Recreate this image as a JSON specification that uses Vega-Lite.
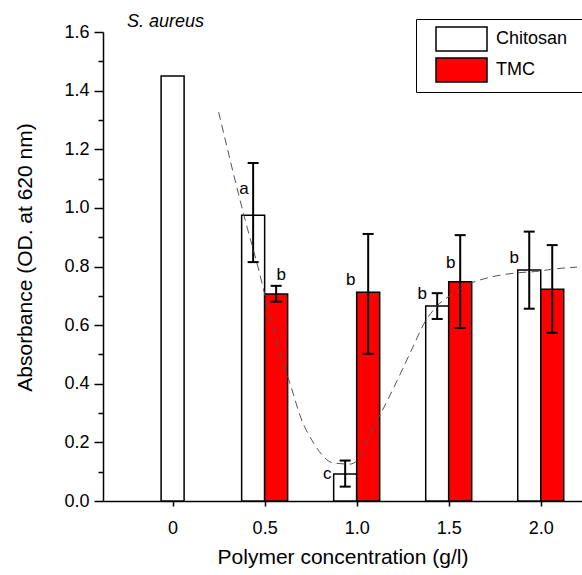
{
  "$schema": "https://vega.github.io/schema/vega-lite/v6.json",
  "width": 479,
  "height": 469,
  "autosize": "none",
  "padding": {"left": 103, "top": 32, "right": 0, "bottom": 74},
  "config": {
    "font": "Liberation Sans",
    "view": {"stroke": null},
    "axis": {"grid": false, "domainColor": "black", "tickColor": "black", "labelColor": "black", "titleColor": "black", "titleFontWeight": "normal", "labelFont": "Liberation Sans", "titleFont": "Liberation Sans"}
  },
  "title": {"text": "S. aureus", "font": "Liberation Sans", "fontStyle": "italic", "fontWeight": "normal", "fontSize": 18, "color": "black", "anchor": "start", "frame": "group", "dx": 24, "dy": 13, "offset": 1},
  "datasets": {
    "bars": [
      {"conc": 0, "series": "Chitosan", "mean": 1.45, "lo": null, "hi": null},
      {"conc": 0.5, "series": "Chitosan", "mean": 0.975, "lo": 0.815, "hi": 1.153},
      {"conc": 0.5, "series": "TMC", "mean": 0.706, "lo": 0.68, "hi": 0.734},
      {"conc": 1.0, "series": "Chitosan", "mean": 0.092, "lo": 0.049, "hi": 0.138},
      {"conc": 1.0, "series": "TMC", "mean": 0.712, "lo": 0.502, "hi": 0.911},
      {"conc": 1.5, "series": "Chitosan", "mean": 0.665, "lo": 0.621, "hi": 0.709},
      {"conc": 1.5, "series": "TMC", "mean": 0.748, "lo": 0.59, "hi": 0.907},
      {"conc": 2.0, "series": "Chitosan", "mean": 0.788, "lo": 0.656, "hi": 0.919},
      {"conc": 2.0, "series": "TMC", "mean": 0.722, "lo": 0.574, "hi": 0.873}
    ],
    "letters": [
      {"lx": 0.388, "ly": 1.047, "letter": "a"},
      {"lx": 0.59, "ly": 0.754, "letter": "b"},
      {"lx": 0.84, "ly": 0.075, "letter": "c"},
      {"lx": 0.968, "ly": 0.737, "letter": "b"},
      {"lx": 1.356, "ly": 0.689, "letter": "b"},
      {"lx": 1.511, "ly": 0.795, "letter": "b"},
      {"lx": 1.856, "ly": 0.812, "letter": "b"}
    ],
    "curve": [
      {"cx": 0.25, "cy": 1.327},
      {"cx": 0.394, "cy": 0.959},
      {"cx": 0.468, "cy": 0.788},
      {"cx": 0.521, "cy": 0.652},
      {"cx": 0.59, "cy": 0.491},
      {"cx": 0.644, "cy": 0.389},
      {"cx": 0.697, "cy": 0.283},
      {"cx": 0.766, "cy": 0.198},
      {"cx": 0.872, "cy": 0.13},
      {"cx": 0.963, "cy": 0.126},
      {"cx": 1.016, "cy": 0.147},
      {"cx": 1.085, "cy": 0.242},
      {"cx": 1.16, "cy": 0.334},
      {"cx": 1.229, "cy": 0.423},
      {"cx": 1.298, "cy": 0.515},
      {"cx": 1.372, "cy": 0.612},
      {"cx": 1.436, "cy": 0.665},
      {"cx": 1.52, "cy": 0.706},
      {"cx": 1.61, "cy": 0.74},
      {"cx": 1.73, "cy": 0.764},
      {"cx": 1.867, "cy": 0.778},
      {"cx": 1.973, "cy": 0.783},
      {"cx": 2.08, "cy": 0.792},
      {"cx": 2.197, "cy": 0.798}
    ]
  },
  "resolve": {"axis": {"y": "independent"}},
  "layer": [
    {
      "data": {"name": "bars"},
      "transform": [{"filter": "datum.series == 'Chitosan' && datum.conc == 0"}],
      "mark": {"type": "bar", "width": 23, "stroke": "black", "strokeWidth": 1.5},
      "encoding": {
        "x": {"field": "conc", "type": "quantitative", "scale": {"domain": [-0.351, 2.197], "nice": false, "zero": false},
          "axis": {"values": [0, 0.5, 1, 1.5, 2], "labelExpr": "datum.value == 0 ? '0' : format(datum.value, '.1f')", "title": "Polymer concentration (g/l)", "titleFontSize": 21, "titlePadding": 9, "labelFontSize": 18, "tickSize": 5, "tickWidth": 1.5, "domainWidth": 1.5, "labelPadding": 13}},
        "y": {"field": "mean", "type": "quantitative", "scale": {"domain": [0, 1.6], "nice": false},
          "axis": {"orient": "left", "values": [0, 0.2, 0.4, 0.6, 0.8, 1.0, 1.2, 1.4, 1.6], "format": ".1f", "title": "Absorbance (OD. at 620 nm)", "titleFontSize": 21, "titlePadding": 28, "titleY": 225, "labelFontSize": 18, "tickSize": 9, "tickWidth": 1.5, "domainWidth": 1.5, "labelPadding": 5}},
        "color": {"field": "series", "type": "nominal", "scale": {"domain": ["Chitosan", "TMC"], "range": ["white", "#ff0000"]},
          "legend": {"orient": "none", "legendX": 313, "legendY": -13, "title": "\u00a0", "titleOrient": "right", "titlePadding": 14, "titleFontSize": 18, "symbolType": "M-2.125,-1H2.125V1H-2.125Z", "symbolSize": 576, "symbolStrokeColor": "black", "symbolStrokeWidth": 1.5, "labelFontSize": 18, "labelColor": "black", "labelOffset": 21.5, "padding": 7, "strokeColor": "black", "rowPadding": 1, "symbolOffset": 25.5}}
      }
    },
    {
      "data": {"name": "bars"},
      "transform": [{"filter": "datum.series == 'Chitosan' && datum.conc > 0"}],
      "mark": {"type": "bar", "width": 23, "stroke": "black", "strokeWidth": 1.5, "xOffset": -11.5},
      "encoding": {
        "x": {"field": "conc", "type": "quantitative"},
        "y": {"field": "mean", "type": "quantitative",
          "axis": {"orient": "left", "values": [0.1, 0.3, 0.5, 0.7, 0.9, 1.1, 1.3, 1.5], "labels": false, "domain": false, "title": null, "tickSize": 5, "tickWidth": 1.5}},
        "color": {"field": "series", "type": "nominal"}
      }
    },
    {
      "data": {"name": "bars"},
      "transform": [{"filter": "datum.series == 'TMC'"}],
      "mark": {"type": "bar", "width": 23, "stroke": "black", "strokeWidth": 1.5, "xOffset": 11.5},
      "encoding": {
        "x": {"field": "conc", "type": "quantitative"},
        "y": {"field": "mean", "type": "quantitative", "axis": null},
        "color": {"field": "series", "type": "nominal"}
      }
    },
    {
      "data": {"name": "bars"},
      "transform": [{"filter": "datum.series == 'Chitosan' && isValid(datum.lo)"}],
      "mark": {"type": "rule", "color": "black", "strokeWidth": 2, "xOffset": -11.5},
      "encoding": {
        "x": {"field": "conc", "type": "quantitative"},
        "y": {"field": "lo", "type": "quantitative", "axis": null},
        "y2": {"field": "hi"}
      }
    },
    {
      "data": {"name": "bars"},
      "transform": [{"filter": "datum.series == 'TMC'"}],
      "mark": {"type": "rule", "color": "black", "strokeWidth": 2, "xOffset": 11.5},
      "encoding": {
        "x": {"field": "conc", "type": "quantitative"},
        "y": {"field": "lo", "type": "quantitative", "axis": null},
        "y2": {"field": "hi"}
      }
    },
    {
      "data": {"name": "bars"},
      "transform": [{"filter": "datum.series == 'Chitosan' && isValid(datum.lo)"}, {"fold": ["lo", "hi"], "as": ["end", "val"]}],
      "mark": {"type": "tick", "orient": "horizontal", "size": 11, "thickness": 2, "color": "black", "opacity": 1, "xOffset": -11.5},
      "encoding": {
        "x": {"field": "conc", "type": "quantitative"},
        "y": {"field": "val", "type": "quantitative", "axis": null}
      }
    },
    {
      "data": {"name": "bars"},
      "transform": [{"filter": "datum.series == 'TMC'"}, {"fold": ["lo", "hi"], "as": ["end", "val"]}],
      "mark": {"type": "tick", "orient": "horizontal", "size": 11, "thickness": 2, "color": "black", "opacity": 1, "xOffset": 11.5},
      "encoding": {
        "x": {"field": "conc", "type": "quantitative"},
        "y": {"field": "val", "type": "quantitative", "axis": null}
      }
    },
    {
      "data": {"name": "curve"},
      "mark": {"type": "line", "color": "#555555", "strokeWidth": 1, "strokeDash": [8, 5], "interpolate": "monotone", "clip": true},
      "encoding": {
        "x": {"field": "cx", "type": "quantitative"},
        "y": {"field": "cy", "type": "quantitative", "axis": null}
      }
    },
    {
      "data": {"name": "letters"},
      "mark": {"type": "text", "fontSize": 17, "color": "black", "align": "center", "baseline": "alphabetic"},
      "encoding": {
        "x": {"field": "lx", "type": "quantitative"},
        "y": {"field": "ly", "type": "quantitative", "axis": null},
        "text": {"field": "letter"}
      }
    }
  ]
}
